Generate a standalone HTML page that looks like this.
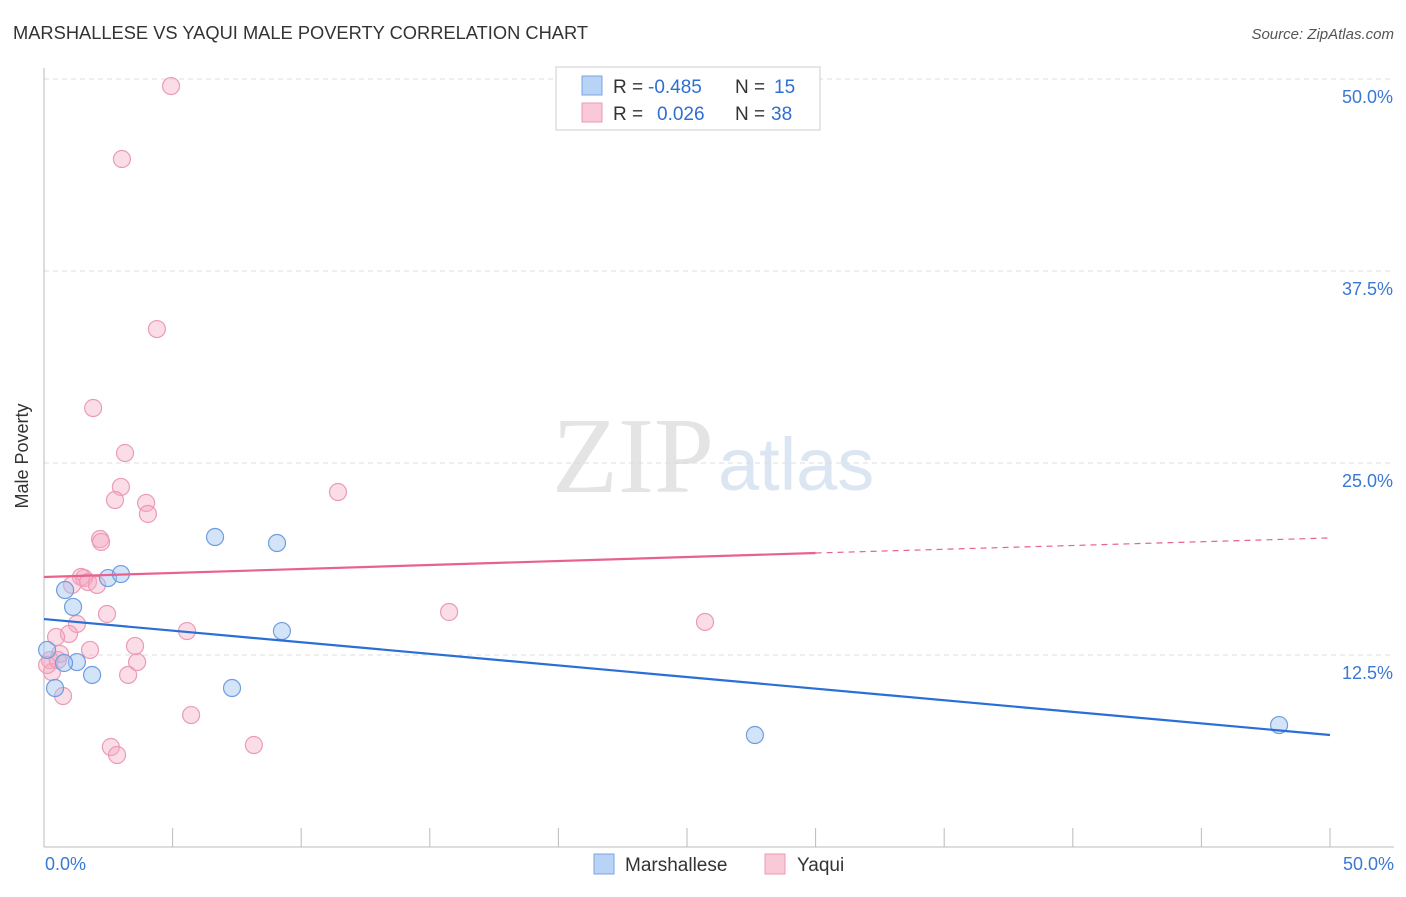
<!DOCTYPE html>
<html><head><meta charset="utf-8"><style>
body{margin:0;background:#fff;font-family:"Liberation Sans",sans-serif}
</style></head><body>
<svg width="1406" height="892" xmlns="http://www.w3.org/2000/svg">
<text x="13" y="39" font-size="18.3" fill="#333">MARSHALLESE VS YAQUI MALE POVERTY CORRELATION CHART</text>
<text x="1394" y="39" font-size="15" fill="#555" text-anchor="end" font-style="italic">Source: ZipAtlas.com</text>
<text x="714" y="492" font-size="108" fill="#e4e4e4" text-anchor="end" font-family="Liberation Serif">ZIP</text>
<text x="718" y="490" font-size="74" fill="#dce6f3">atlas</text>
<g id="grid"></g>
<line x1="44" y1="68" x2="44" y2="847" stroke="#bbb"/>
<line x1="44" y1="847" x2="1394" y2="847" stroke="#bbb"/>
<g id="ticks"></g>
<text x="28" y="456" font-size="18" fill="#333" text-anchor="middle" transform="rotate(-90 28 456)">Male Poverty</text>
<g id="marks"></g>
<rect x="556" y="67" width="264" height="63" fill="#fff" stroke="#ccc"/>
<rect x="582" y="76" width="20" height="19" fill="#b8d3f5" stroke="#7aa5e0"/>
<rect x="582" y="103" width="20" height="19" fill="#f9c9d7" stroke="#ea9ab4"/>
<g font-size="19">
<text x="613" y="93" fill="#333">R =</text>
<text x="648" y="93" fill="#2f6fd0">-0.485</text>
<text x="735" y="93" fill="#333">N =</text>
<text x="774" y="93" fill="#2f6fd0">15</text>
<text x="613" y="120" fill="#333">R =</text>
<text x="657" y="120" fill="#2f6fd0">0.026</text>
<text x="735" y="120" fill="#333">N =</text>
<text x="771" y="120" fill="#2f6fd0">38</text>
</g>
<rect x="594" y="854" width="20" height="20" fill="#b8d3f5" stroke="#7aa5e0"/>
<text x="625" y="871" font-size="19" fill="#333">Marshallese</text>
<rect x="765" y="854" width="20" height="20" fill="#f9c9d7" stroke="#ea9ab4"/>
<text x="797" y="871" font-size="19" fill="#333">Yaqui</text>
</svg>
<script>
const blueX=[0.12,0.43,0.82,1.13,1.28,1.87,2.49,2.99,6.65,9.06,9.25,7.31,27.64,48.02,0.78];
const blueY=[12.83,10.35,16.73,15.63,12.04,11.2,17.51,17.77,20.18,19.79,14.06,10.35,7.29,7.94,11.98];
const pinkX=[4.94,3.03,4.39,1.91,3.15,2.99,2.76,3.97,4.04,11.43,2.18,2.22,1.56,1.44,1.71,2.06,1.09,2.45,1.28,0.97,0.47,15.75,25.7,5.56,3.54,1.79,0.62,3.62,0.23,0.31,3.27,0.74,5.72,2.6,2.84,8.16,0.12,0.54];
const pinkY=[49.54,44.79,33.72,28.58,25.65,23.44,22.59,22.4,21.68,23.11,20.05,19.86,17.51,17.58,17.25,17.06,17.06,15.17,14.52,13.87,13.67,15.3,14.65,14.06,13.09,12.83,12.57,12.04,12.17,11.39,11.2,9.83,8.59,6.51,5.99,6.64,11.85,12.17];
const blueTrend=[14.84,7.29];
const pinkTrend=[17.58,19.14,20.12];
const pinkTrendX=[0,30,50];
const yTicks=[12.5,25,37.5,50];
const yTickLabels=["12.5%","25.0%","37.5%","50.0%"];
const xTickLabels=["0.0%","50.0%"];
const NS="http://www.w3.org/2000/svg";
const sx=v=>44+v*25.72, sy=v=>847-v*15.36;
function mk(t,a,p){const e=document.createElementNS(NS,t);for(const k in a)e.setAttribute(k,a[k]);document.getElementById(p).appendChild(e);return e;}
yTicks.forEach((t,i)=>{
 const g=mk('line',{x1:44,x2:1394,y1:sy(t),y2:sy(t),stroke:'#ddd','stroke-dasharray':'5,4'},'grid');
 
 
 const l=mk('text',{x:1393,y:sy(t)+24,'font-size':18,fill:'#3a78d4','text-anchor':'end'},'ticks');
 l.textContent=yTickLabels[i];
 
 
});
for(let i=0;i<=10;i++){
 const t=mk('line',{x1:sx(i*5),x2:sx(i*5),y1:828,y2:847,stroke:'#bbb'},'ticks');
 
 
}
[[0,'start',45],[50,'end',1394]].forEach((d,i)=>{
 const l=mk('text',{x:d[2],y:870,'font-size':18,fill:'#3a78d4','text-anchor':d[1]},'ticks');
 l.textContent=xTickLabels[i];
 
 
});
pinkX.forEach((x,i)=>{
 const c=mk('circle',{cx:sx(x),cy:sy(pinkY[i]),r:8.5,fill:'rgba(246,170,195,0.4)',stroke:'#eb9bb5','stroke-width':1.2},'marks');
 
 
});
blueX.forEach((x,i)=>{
 const c=mk('circle',{cx:sx(x),cy:sy(blueY[i]),r:8.5,fill:'rgba(160,195,240,0.45)',stroke:'#6f9de0','stroke-width':1.2},'marks');
 
 
});
const bl=mk('line',{x1:sx(0),y1:sy(blueTrend[0]),x2:sx(50),y2:sy(blueTrend[1]),stroke:'#2a6fd6','stroke-width':2.2},'marks');


const pl=mk('line',{x1:sx(pinkTrendX[0]),y1:sy(pinkTrend[0]),x2:sx(pinkTrendX[1]),y2:sy(pinkTrend[1]),stroke:'#e8628d','stroke-width':2.2},'marks');


const pd=mk('line',{x1:sx(pinkTrendX[1]),y1:sy(pinkTrend[1]),x2:sx(pinkTrendX[2]),y2:sy(pinkTrend[2]),stroke:'#e8628d','stroke-width':1.2,'stroke-dasharray':'6,5'},'marks');


</script>
</body></html>
